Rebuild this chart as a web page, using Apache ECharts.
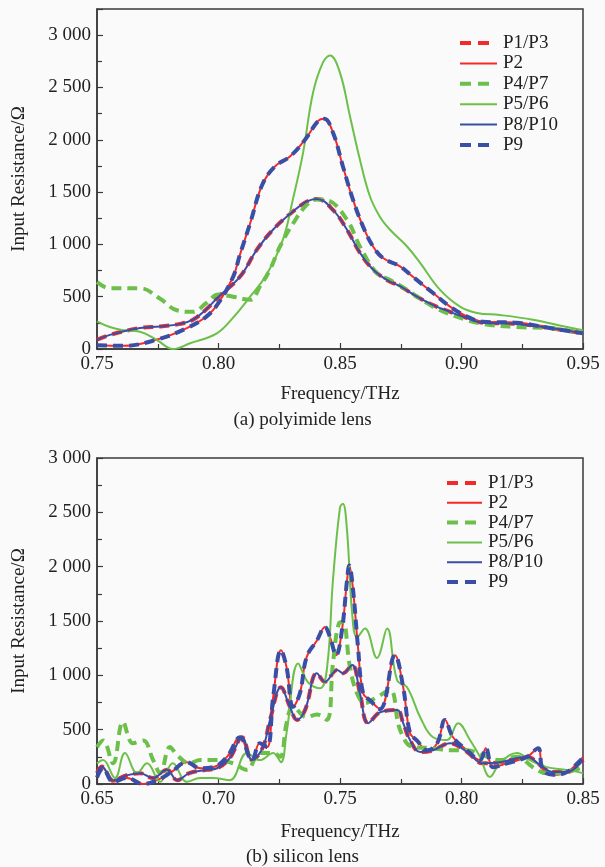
<!DOCTYPE html>
<html>
<head>
<meta charset="utf-8">
<script src="https://cdn.jsdelivr.net/npm/echarts@6/dist/echarts.min.js"></script>
<style>
html,body{margin:0;padding:0;background:#fafafa;}
#c{width:605px;height:867px;}
</style>
</head>
<body>
<div id="c"></div>
<script>
// ---------- (a) polyimide lens ----------
const aFreqTall = [0.75,0.7607,0.7747,0.787,0.795,0.80,0.806,0.8088,0.813,0.818,0.8232,0.8294,0.8356,0.841,0.8435,0.8471,0.8512,0.8553,0.8595,0.8636,0.8677,0.8747,0.880,0.8883,0.8953,0.9023,0.9088,0.9228,0.9364,0.95];
const aValTall  = [35,30,90,200,310,440,690,900,1200,1570,1745,1840,2000,2180,2200,2070,1745,1430,1170,980,870,790,690,535,405,310,260,250,200,150];

const aFreqLow = [0.75,0.7553,0.7677,0.776,0.7842,0.7895,0.795,0.80,0.8088,0.8158,0.8224,0.8294,0.8364,0.8405,0.8471,0.8529,0.8582,0.8636,0.8693,0.8747,0.8817,0.8883,0.8953,0.9023,0.9088,0.9228,0.9364,0.95];
const aValLow  = [88,135,200,215,240,280,380,500,690,950,1140,1290,1410,1435,1330,1140,920,760,660,600,500,420,355,295,250,240,200,150];

const aFreqP47 = [0.75,0.7553,0.7677,0.776,0.7829,0.7895,0.795,0.80,0.806,0.813,0.8171,0.8212,0.8253,0.8307,0.8364,0.8405,0.845,0.8529,0.8582,0.865,0.8706,0.8776,0.8883,0.898,0.9088,0.9228,0.9364,0.95];
const aValP47  = [640,580,580,480,370,355,440,520,500,470,600,760,980,1200,1380,1430,1420,1235,980,730,660,565,405,310,240,210,200,150];

const aFreqP56 = [0.75,0.7553,0.7607,0.7677,0.7747,0.7813,0.7883,0.7993,0.806,0.813,0.82,0.8265,0.8307,0.8348,0.8389,0.843,0.8459,0.85,0.8541,0.8582,0.8623,0.8664,0.8706,0.8776,0.8829,0.8912,0.8994,0.9064,0.9158,0.9294,0.9434,0.95];
const aValP56  = [265,210,180,165,85,0,55,150,300,500,720,1045,1440,1875,2450,2740,2805,2640,2225,1810,1460,1265,1140,980,825,565,405,345,325,280,210,180];

// ---------- (b) silicon lens ----------
const bFreqTall = [0.65,0.6525,0.6566,0.6623,0.669,0.6747,0.68,0.687,0.6924,0.6977,0.7035,0.7088,0.7138,0.717,0.72,0.7225,0.7257,0.728,0.7307,0.7335,0.7363,0.7405,0.7438,0.7459,0.7484,0.7508,0.7529,0.7538,0.7554,0.7574,0.7595,0.7623,0.7665,0.7726,0.776,0.7788,0.7817,0.7858,0.79,0.7932,0.7965,0.8023,0.8076,0.81,0.813,0.8187,0.827,0.8315,0.8335,0.8377,0.8434,0.849,0.85];
const bValTall  = [60,145,20,55,0,35,100,200,145,155,250,430,220,375,340,800,1230,1075,710,835,1170,1320,1445,1350,1185,1415,1875,2010,1780,1260,835,770,690,1185,890,470,400,310,375,590,430,310,220,330,155,190,250,330,130,85,110,220,250];

const bFreqLow = [0.65,0.652,0.6566,0.6623,0.6677,0.673,0.6788,0.683,0.688,0.6953,0.6994,0.7047,0.7097,0.7138,0.7183,0.7212,0.7257,0.7294,0.7323,0.7356,0.7405,0.7438,0.7488,0.7512,0.755,0.7582,0.7616,0.7665,0.7735,0.776,0.7788,0.783,0.7883,0.7953,0.8023,0.8088,0.8158,0.827,0.8323,0.8377,0.8434,0.85];
const bValLow  = [100,160,35,80,100,55,130,35,100,130,145,240,430,220,340,590,890,710,590,680,1020,940,1050,1020,1095,835,560,660,680,560,405,295,310,375,295,190,200,250,175,110,110,220];

const bFreqP47 = [0.65,0.6525,0.6566,0.6607,0.6648,0.669,0.6731,0.676,0.68,0.683,0.688,0.6924,0.6994,0.706,0.7117,0.717,0.7225,0.7254,0.728,0.7307,0.7363,0.7405,0.7446,0.7471,0.7496,0.7512,0.7541,0.757,0.7603,0.7652,0.7706,0.7747,0.78,0.7883,0.7953,0.8023,0.8088,0.8158,0.8228,0.8294,0.835,0.8434,0.85];
const bValP47  = [340,400,190,570,375,400,220,100,340,265,190,220,220,190,130,285,285,250,560,710,615,640,590,1110,1480,1490,1075,835,745,800,865,500,340,330,310,310,265,220,250,155,100,110,155];

const bFreqP56 = [0.65,0.6525,0.6574,0.6615,0.6665,0.6706,0.676,0.6812,0.687,0.6924,0.6977,0.7047,0.7117,0.717,0.7225,0.7257,0.728,0.7328,0.737,0.7418,0.7447,0.7471,0.75,0.7512,0.7529,0.755,0.757,0.7603,0.7652,0.7694,0.7735,0.7776,0.783,0.7883,0.794,0.7986,0.8035,0.8076,0.8117,0.8158,0.8228,0.8282,0.835,0.8434,0.85];
const bValP56  = [190,220,55,285,100,190,20,190,20,55,55,35,285,220,285,200,470,1110,930,880,1075,1875,2545,2580,2330,1570,1350,1430,1160,1430,955,890,615,430,405,560,405,250,65,190,285,220,155,130,100];

const seriesNames = ['P1/P3','P2','P4/P7','P5/P6','P8/P10','P9'];
const yTicksLabel = v => (v % 500 !== 0) ? '' : String(v).replace(/\B(?=(\d{3})+(?!\d))/g, ' ');

const zip = (f, v) => f.map((x, i) => [x, v[i]]);

const RED = '#f42a2a', GREEN = '#6cc04a', BLUE = '#3a4ea6';
const styles = [
  {color: RED,   width: 4, type: [10, 6], dashed: true},
  {color: RED,   width: 2, type: 'solid', dashed: false},
  {color: GREEN, width: 4, type: [10, 6], dashed: true},
  {color: GREEN, width: 2, type: 'solid', dashed: false},
  {color: BLUE,  width: 2, type: 'solid', dashed: false},
  {color: BLUE,  width: 4, type: [10, 6], dashed: true}
];

const aData = [zip(aFreqLow,aValLow), zip(aFreqTall,aValTall), zip(aFreqP47,aValP47), zip(aFreqP56,aValP56), zip(aFreqLow,aValLow), zip(aFreqTall,aValTall)];
const bData = [zip(bFreqLow,bValLow), zip(bFreqTall,bValTall), zip(bFreqP47,bValP47), zip(bFreqP56,bValP56), zip(bFreqLow,bValLow), zip(bFreqTall,bValTall)];

const FONT = 'Liberation Serif';
const TXT = '#222';
const AX = '#3a3a3a';

function xAxis(gi, min, max, gap) {
  return {
    type: 'value', gridIndex: gi, min: min, max: max, interval: 0.05,
    name: 'Frequency/THz', nameLocation: 'middle', nameGap: gap,
    nameTextStyle: {fontFamily: FONT, fontSize: 19, color: TXT},
    axisLine: {show: true, lineStyle: {color: AX, width: 1.5}},
    axisTick: {show: true, inside: true, length: 6, lineStyle: {color: AX, width: 1.2}},
    minorTick: {show: true, splitNumber: 2, length: 5, lineStyle: {color: AX, width: 1.2}},
    axisLabel: {fontFamily: FONT, fontSize: 19, color: TXT, margin: 6, formatter: v => v.toFixed(2)},
    splitLine: {show: false}, minorSplitLine: {show: false}
  };
}
function yAxis(gi, max) {
  return {
    type: 'value', gridIndex: gi, min: 0, max: max, interval: 500,
    name: 'Input Resistance/Ω', nameLocation: 'middle', nameGap: 68, nameRotate: 90,
    nameTextStyle: {fontFamily: FONT, fontSize: 19, color: TXT},
    axisLine: {show: true, lineStyle: {color: AX, width: 1.5}},
    axisTick: {show: true, inside: true, length: 6, lineStyle: {color: AX, width: 1.2}},
    minorTick: {show: true, splitNumber: 2, length: 5, lineStyle: {color: AX, width: 1.2}},
    axisLabel: {fontFamily: FONT, fontSize: 19, color: TXT, margin: 6, formatter: yTicksLabel, showMaxLabel: max % 500 === 0},
    splitLine: {show: false}, minorSplitLine: {show: false}
  };
}

const series = [];
[aData, bData].forEach((data, gi) => {
  data.forEach((d, i) => {
    series.push({
      type: 'line', name: seriesNames[i], xAxisIndex: gi, yAxisIndex: gi,
      data: d, smooth: 0.4, symbol: 'none', showSymbol: false,
      lineStyle: {color: styles[i].color, width: styles[i].width, type: styles[i].type},
      itemStyle: {color: styles[i].color},
      emphasis: {disabled: true}, animation: false
    });
  });
});

// legend drawn as graphic items (line sample + label)
function legendGraphics(x0, y0, step, lineLen) {
  const out = [];
  seriesNames.forEach((n, i) => {
    const s = styles[i];
    const y = y0 + step * i;
    out.push({
      type: 'line', silent: true,
      shape: {x1: x0, y1: y, x2: x0 + (s.dashed ? 29 : lineLen), y2: y},
      style: {stroke: s.color, lineWidth: s.width, lineDash: s.dashed ? [11, 7] : null}
    });
    out.push({
      type: 'text', silent: true, x: x0 + lineLen + 6, y: y,
      style: {text: n, font: '19px "Liberation Serif"', fill: TXT, verticalAlign: 'middle', textAlign: 'left'}
    });
  });
  return out;
}

const chart = echarts.init(document.getElementById('c'), null, {renderer: 'canvas'});
chart.setOption({
  backgroundColor: '#fafafa',
  animation: false,
  grid: [
    {left: 97, right: 22, top: 9, height: 340, show: true, borderColor: AX, borderWidth: 1.5, backgroundColor: 'transparent'},
    {left: 97, right: 22, top: 458, height: 326, show: true, borderColor: AX, borderWidth: 1.5, backgroundColor: 'transparent'}
  ],
  xAxis: [xAxis(0, 0.75, 0.95, 36), xAxis(1, 0.65, 0.85, 39)],
  yAxis: [yAxis(0, 3250), yAxis(1, 3000)],
  graphic: [
    {type: 'text', left: 'center', top: 411, style: {text: '(a) polyimide lens', font: '19px "Liberation Serif"', fill: TXT}},
    {type: 'text', left: 'center', top: 848, style: {text: '(b) silicon lens', font: '19px "Liberation Serif"', fill: TXT}}
  ].concat(legendGraphics(460, 43, 20.4, 37), legendGraphics(447, 483, 19.8, 35)),
  series: series
});
</script>
</body>
</html>
